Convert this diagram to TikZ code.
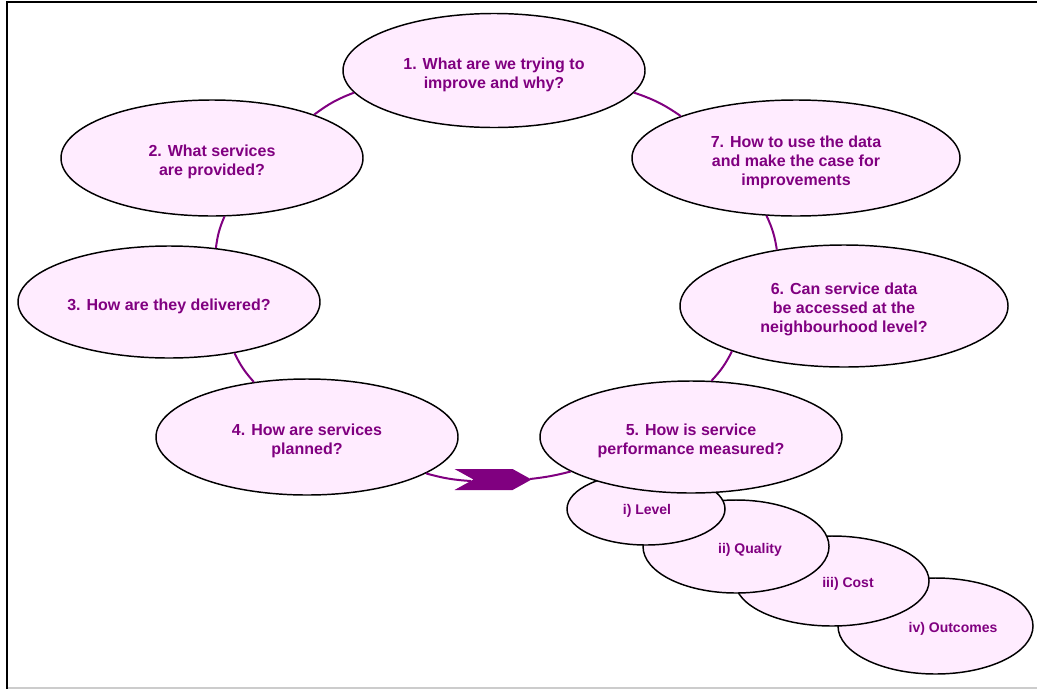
\documentclass[tikz,border=0pt]{standalone}
\usepackage{fontspec}
\setmainfont{Liberation Sans}
\usetikzlibrary{shapes.geometric,shapes.symbols}
\definecolor{bubpink}{RGB}{255,236,255}
\definecolor{txtpurple}{RGB}{128,0,128}
\newcommand{\lift}{\rule{0pt}{14.5pt}}
\tikzset{
  bub/.style={ellipse, draw=black, line width=1.1pt, fill=bubpink, text=txtpurple,
    font=\bfseries\fontsize{12}{14.25}\selectfont, align=center, inner sep=0pt},
  subbub/.style={ellipse, draw=black, line width=1.1pt, fill=bubpink, inner sep=0pt},
  sublbl/.style={text=txtpurple, font=\bfseries\fontsize{10.5}{12}\selectfont, inner sep=0pt},
  ring/.style={draw=txtpurple, line width=1.5pt}
}
\begin{document}
\begin{tikzpicture}[x=0.75pt, y=-0.75pt]
            \useasboundingbox (0,0) rectangle (1037,689);
            % frame
            \draw[gray!40, line width=1pt] (6.5,688) -- (1037,688);
            \draw[black, line width=1.5pt] (6.5,689) -- (6.5,2) -- (1037,2);
            % the seven questions
            \node[bub, minimum width=226.5pt, minimum height=85.5pt] (why) at (494,70.5) {\lift 1. What are we trying to\\improve and why?};
            \node[bub, minimum width=226.5pt, minimum height=87pt] (serv) at (212,158) {\lift 2. What services\\are provided?};
            \node[bub, minimum width=246pt, minimum height=87pt] (case) at (796,158) {\lift 7. How to use the data\\and make the case for\\improvements};
            \node[bub, minimum width=226.5pt, minimum height=84pt] (deliv) at (169,302) {\lift 3. How are they delivered?};
            \node[bub, minimum width=246pt, minimum height=91.5pt] (neigh) at (844,306) {\lift 6. Can service data\\be accessed at the\\neighbourhood level?};
            \node[bub, minimum width=226.5pt, minimum height=87pt] (plan) at (307,437) {\lift 4. How are services\\planned?};
            % measures under question 5
            \node[subbub, minimum width=146.25pt, minimum height=72pt] (outc) at (935.5,626) {};
            \node[sublbl] (outctxt) at (953,629) {iv) Outcomes};
            \node[subbub, minimum width=145.5pt, minimum height=67.5pt] (cost) at (832,581) {};
            \node[sublbl] (costtxt) at (848,584) {iii) Cost};
            \node[subbub, minimum width=139.5pt, minimum height=69.75pt] (qual) at (736,546.5) {};
            \node[sublbl] (qualtxt) at (750,550) {ii) Quality};
            \node[subbub, minimum width=118.5pt, minimum height=54pt] (lvl) at (646,509) {};
            \node[sublbl] (lvltxt) at (647,511) {i) Level};
            \node[bub, minimum width=226.5pt, minimum height=84pt] (meas) at (691,437) {\lift 5. How is service\\performance measured?};
            % ring
            \draw[ring] (why.189) to[bend right=8] (serv.23);
            \draw[ring] (serv.282) to[bend right=8] (deliv.49);
            \draw[ring] (deliv.322) to[bend right=8] (plan.134);
            \draw[ring] (meas.70) to[bend right=8] (neigh.202);
            \draw[ring] (neigh.140) to[bend right=8] (case.243);
            \draw[ring] (case.160) to[bend right=8] (why.351);
            \coordinate (arrin) at (471,481);
            \coordinate (arrout) at (530,479);
            \draw[ring] (plan.343) to[bend right=6] (arrin);
            \draw[ring] (arrout) to[bend right=4] (meas.196);
            \node[signal, signal from=west, signal to=east, signal pointer angle=58, fill=txtpurple,
              minimum width=57.75pt, minimum height=15.75pt, inner sep=0pt] (arr) at (493,479.5) {};
\end{tikzpicture}
\end{document}
